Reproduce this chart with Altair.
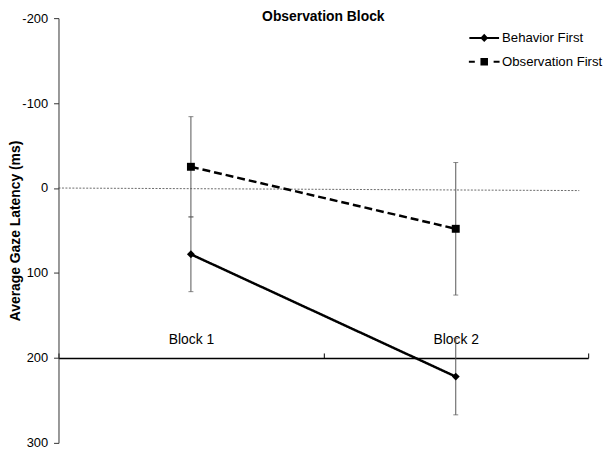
import altair as alt
import pandas as pd

# ---- data ----
blocks = ["Block 1", "Block 2"]
series_names = ["Behavior First", "Observation First"]
behavior_mean = [78, 222]
observation_mean = [-25, 48]
behavior_err = [44, 45]
observation_err = [59, 78]
y_ticks = [-200, -100, 0, 100, 200, 300]
y_domain = [-200, 300]
x_axis_crossing = 200
zero_line = [0, 3]

rows = []
for s, means, errs in [
    (series_names[0], behavior_mean, behavior_err),
    (series_names[1], observation_mean, observation_err),
]:
    for b, m, e in zip(blocks, means, errs):
        rows.append({"block": b, "series": s, "mean": m, "lo": m - e, "hi": m + e})
df = pd.DataFrame(rows)
caps = pd.concat([
    df[["block", "series"]].assign(val=df["lo"]),
    df[["block", "series"]].assign(val=df["hi"]),
])

W, H = 535, 429
FONT = "Liberation Sans"
cross_px = H * (x_axis_crossing - y_domain[0]) / (y_domain[1] - y_domain[0])

x_enc = alt.X(
    "block:N",
    scale=alt.Scale(type="band", domain=blocks, paddingInner=0, paddingOuter=0),
    axis=alt.Axis(
        orient="top", offset=-cross_px, title=None, labelAngle=0,
        labelFontSize=14, labelFont=FONT, labelColor="black", labelPadding=7,
        tickBand="extent", tickSize=5, tickColor="black", tickWidth=1,
        domainColor="black", domainWidth=1.5, labelBaseline="bottom",
    ),
)


def y_enc(field):
    return alt.Y(
        f"{field}:Q",
        scale=alt.Scale(domain=y_domain, reverse=True, nice=False, zero=False),
        axis=alt.Axis(
            values=y_ticks, title="Average Gaze Latency (ms)", grid=False,
            labelExpr="datum.value + ''",
            labelFontSize=13, labelFont=FONT, labelColor="black", labelPadding=6,
            tickSize=5, tickColor="#333", domainColor="#333",
            titleFont=FONT, titleFontSize=14, titleFontWeight="bold",
            titleColor="black", titleX=-36, titleY=H / 2,
            titleBaseline="bottom", titleAngle=270,
        ),
    )


base = alt.Chart(df)

zero = alt.Chart(pd.DataFrame({"z": [0]})).mark_rule(
    color="#444", strokeWidth=0.8, strokeDash=[2, 1.5]
).encode(
    x=alt.value(0), x2=alt.value(W - 9),
    y=alt.datum(zero_line[0]), y2=alt.datum(zero_line[1]),
)

err = base.mark_rule(color="#555", strokeWidth=1).encode(
    x=x_enc, y=y_enc("lo"), y2="hi:Q"
)
cap = alt.Chart(caps).mark_tick(color="#555", thickness=1, size=5).encode(
    x=x_enc, y=y_enc("val")
)
lines = base.mark_line(color="black", strokeWidth=2.5).encode(
    x=x_enc, y=y_enc("mean"),
    strokeDash=alt.StrokeDash(
        "series:N",
        scale=alt.Scale(domain=series_names, range=[[1, 0], [8, 4]]),
        legend=None,
    ),
)
points = base.mark_point(filled=True, color="black", size=64, opacity=1).encode(
    x=x_enc, y=y_enc("mean"),
    shape=alt.Shape(
        "series:N",
        scale=alt.Scale(domain=series_names, range=["diamond", "square"]),
        legend=None,
    ),
)

# legend glyphs (unit coordinates, drawn filled): line + marker
path_beh = (
    "M-1.5,-0.1L1.5,-0.1L1.5,0.1L-1.5,0.1Z"
    "M0,-0.42L0.4,0L0,0.42L-0.4,0Z"
)
path_obs = (
    "M-1.55,-0.1L-0.95,-0.1L-0.95,0.1L-1.55,0.1Z"
    "M0.95,-0.1L1.55,-0.1L1.55,0.1L0.95,0.1Z"
    "M-0.38,-0.38L0.38,-0.38L0.38,0.38L-0.38,0.38Z"
)
legend_layer = base.mark_point(
    filled=True, color="black", strokeWidth=0, opacity=0
).encode(
    x=x_enc, y=y_enc("mean"),
    shape=alt.Shape(
        "series:N",
        scale=alt.Scale(domain=series_names, range=[path_beh, path_obs]),
        legend=alt.Legend(
            title=None, orient="none", legendX=420, legendY=10,
            symbolSize=400, symbolStrokeWidth=0,
            symbolFillColor="black", symbolOpacity=1,
            labelFontSize=13.3, labelFont=FONT, labelColor="black",
            labelOffset=8, rowPadding=7, padding=0,
        ),
    ),
)

chart = alt.layer(zero, err, cap, lines, points, legend_layer).resolve_scale(
    shape="independent"
).properties(
    width=W, height=H,
    title=alt.TitleParams(
        "Observation Block", font=FONT, fontSize=14, fontWeight="bold",
        color="black", anchor="middle", baseline="top", offset=0, dy=12,
    ),
    autosize=alt.AutoSizeParams(type="none"),
    padding={"left": 51, "top": 8, "right": 18, "bottom": 8},
    background="white",
).configure_view(stroke=None)

chart.save("out.html", embed_options={"renderer": "svg", "actions": False})
